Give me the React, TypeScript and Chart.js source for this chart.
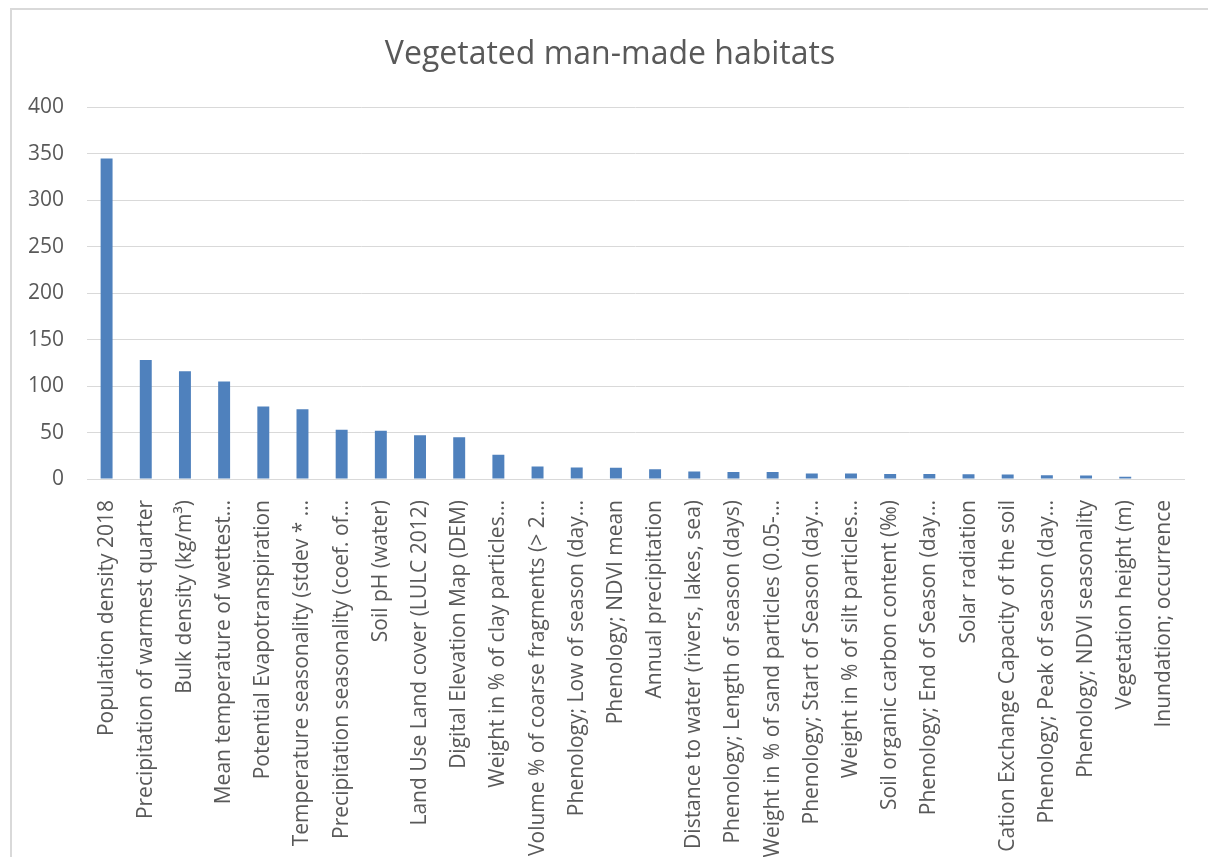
import React, { useEffect, useRef } from "react";
import { Chart, registerables } from "chart.js";

Chart.register(...registerables);

const TITLE = "Vegetated man-made habitats";

const categories: string[] = [
  "Population density 2018",
  "Precipitation of warmest quarter",
  "Bulk density (kg/m³)",
  "Mean temperature of wettest…",
  "Potential Evapotranspiration",
  "Temperature seasonality (stdev * …",
  "Precipitation seasonality (coef. of…",
  "Soil pH (water)",
  "Land Use Land cover (LULC 2012)",
  "Digital Elevation Map (DEM)",
  "Weight in % of clay particles…",
  "Volume % of coarse fragments (> 2…",
  "Phenology; Low of season (day…",
  "Phenology; NDVI mean",
  "Annual precipitation",
  "Distance to water (rivers, lakes, sea)",
  "Phenology; Length of season (days)",
  "Weight in % of sand particles (0.05-…",
  "Phenology; Start of Season (day…",
  "Weight in % of silt particles…",
  "Soil organic carbon content (‰)",
  "Phenology; End of Season (day…",
  "Solar radiation",
  "Cation Exchange Capacity of the soil",
  "Phenology; Peak of season (day…",
  "Phenology; NDVI seasonality",
  "Vegetation height (m)",
  "Inundation; occurrence",
];

const values: number[] = [
  345, 128, 116, 105, 78, 75, 53, 52, 47, 45, 26, 13.5, 12.5, 12, 10.5, 8, 7.5,
  7.5, 6, 6, 5.5, 5.5, 5, 4.8, 4, 3.8, 2.5, 0,
];

const yMin = 0;
const yMax = 400;
const yStep = 50;

const FONT = "'Open Sans', 'DejaVu Sans', sans-serif";
const TEXT = "#595959";
const GRID = "#d9d9d9";

export default function App() {
  const ref = useRef<HTMLCanvasElement | null>(null);

  useEffect(() => {
    if (!ref.current) return;
    const chart = new Chart(ref.current, {
      type: "bar",
      data: {
        labels: categories,
        datasets: [
          {
            data: values,
            backgroundColor: "#4f81bd",
            borderWidth: 0,
            barPercentage: 0.305,
            categoryPercentage: 1,
            yAxisID: "y",
          },
        ],
      },
      options: {
        responsive: false,
        animation: false,
        devicePixelRatio: 1,
        layout: { padding: 0 },
        plugins: {
          legend: { display: false },
          tooltip: { enabled: false },
          title: {
            display: true,
            text: TITLE,
            color: TEXT,
            font: { family: FONT, size: 32, weight: "normal" },
            padding: { top: 26, bottom: 33 },
          },
        },
        scales: {
          x: {
            grid: { display: false },
            border: { display: true, color: GRID, width: 1 },
            ticks: {
              autoSkip: false,
              minRotation: 90,
              maxRotation: 90,
              padding: 13,
              color: TEXT,
              font: { family: FONT, size: 21 },
            },
            afterFit: (scale: any) => {
              scale.height = 378;
            },
          },
          y: {
            min: yMin,
            max: yMax,
            border: { display: false },
            grid: { color: GRID, lineWidth: 1, drawTicks: false },
            ticks: {
              stepSize: yStep,
              padding: 23,
              color: TEXT,
              font: { family: FONT, size: 21 },
            },
            afterFit: (scale: any) => {
              scale.width = 75;
            },
          },
          yRight: {
            position: "right",
            display: true,
            border: { display: false },
            grid: { display: false, drawOnChartArea: false },
            ticks: { display: false },
            afterFit: (scale: any) => {
              scale.width = 24;
            },
          },
        },
      },
    });
    return () => chart.destroy();
  }, []);

  return (
    <div
      style={{
        position: "fixed",
        left: 10,
        top: 8,
        width: 1198,
        height: 849,
        boxSizing: "border-box",
        borderTop: "2px solid #d9d9d9",
        borderLeft: "2px solid #d9d9d9",
        background: "#ffffff",
      }}
    >
      <canvas ref={ref} width={1196} height={847} style={{ display: "block" }} />
    </div>
  );
}
